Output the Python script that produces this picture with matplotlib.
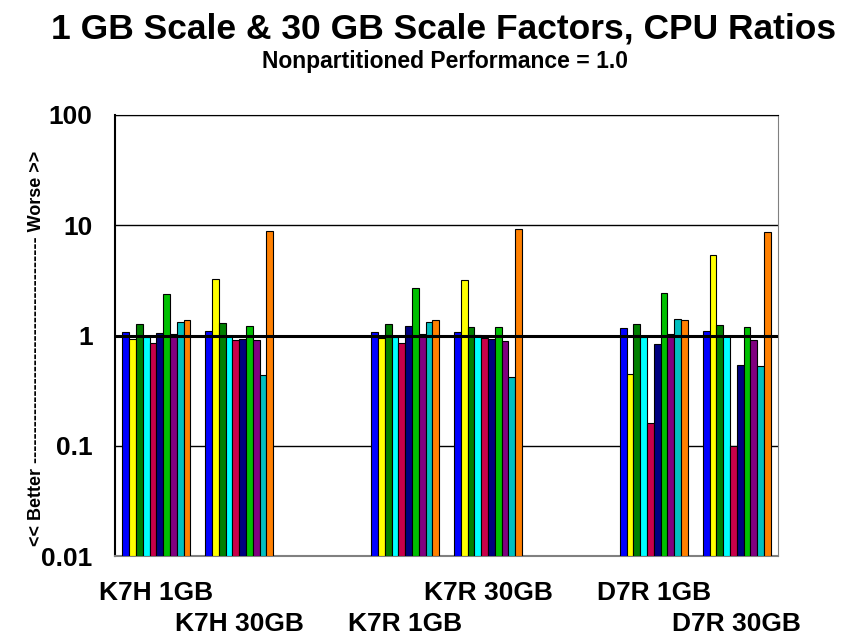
import numpy as np
import matplotlib
matplotlib.use("Agg")
import matplotlib.pyplot as plt

plt.rcParams['font.family'] = ['Liberation Sans', 'DejaVu Sans']
plt.rcParams['font.weight'] = 'bold'

# 8 category slots, two of them empty (gaps between system groups)
cats = ['K7H 1GB', 'K7H 30GB', '', 'K7R 1GB', 'K7R 30GB', '', 'D7R 1GB', 'D7R 30GB']
groups = [0, 1, 3, 4, 6, 7]

# one list per series (10 series), values per non-empty group
s_blue    = [1.08, 1.09, 1.08, 1.08, 1.17, 1.09]
s_yellow  = [0.93, 3.23, 0.95, 3.20, 0.45, 5.38]
s_dkgreen = [1.28, 1.29, 1.28, 1.19, 1.28, 1.25]
s_cyan    = [0.97, 0.99, 0.97, 1.02, 0.97, 0.99]
s_crimson = [0.86, 0.91, 0.86, 0.95, 0.16, 0.10]
s_navy    = [1.06, 0.94, 1.22, 0.93, 0.83, 0.54]
s_green   = [2.40, 1.23, 2.70, 1.19, 2.43, 1.20]
s_purple  = [1.03, 0.92, 1.03, 0.90, 1.03, 0.92]
s_teal    = [1.33, 0.44, 1.33, 0.42, 1.42, 0.53]
s_orange  = [1.39, 8.87, 1.39, 9.30, 1.39, 8.77]

series = [s_blue, s_yellow, s_dkgreen, s_cyan, s_crimson,
          s_navy, s_green, s_purple, s_teal, s_orange]
colors = ['#0000FF', '#FFFF00', '#008000', '#00FFFF', '#C8004A',
          '#000080', '#00C000', '#800080', '#00C0C0', '#FF8000']

fig = plt.figure(figsize=(8.45, 6.37), dpi=100)
ax = fig.add_axes([0.136, 0.127, 0.785, 0.6925])

ax.set_yscale('log')
ax.set_ylim(0.01, 100)
ax.set_xlim(-0.5, 7.5)

w = 0.082
x = np.array(groups, dtype=float)
for i, (vals, c) in enumerate(zip(series, colors)):
    v = np.array(vals)
    ax.bar(x + (i - 4.5) * w, v - 0.01, bottom=0.01, width=w, color=c,
           edgecolor='black', linewidth=0.8, zorder=3)

# gridlines
for g in [0.1, 10, 100]:
    ax.axhline(g, color='black', linewidth=1.0, zorder=1)
ax.axhline(1, color='black', linewidth=2.2, zorder=4)

ax.set_yticks([0.01, 0.1, 1, 10, 100])
ax.set_yticklabels(['0.01', '0.1', '1', '10', '100'])
ax.yaxis.set_minor_locator(matplotlib.ticker.NullLocator())
ax.tick_params(axis='y', labelsize=19, length=0, pad=16)

# staggered category labels (Excel style: even slots row 1, odd slots row 2)
ax.set_xticks(range(8))
ax.set_xticklabels([])
ax.tick_params(axis='x', length=0)
xt = ax.get_xaxis_transform()
for k, c in enumerate(cats):
    if not c:
        continue
    yy = -0.083 if k % 2 == 0 else -0.153
    ax.text(k, yy, c, transform=xt, ha='center', va='center', fontsize=19,
            fontweight='bold')

ax.spines['left'].set_color('black')
ax.spines['left'].set_linewidth(1.5)
ax.spines['top'].set_color('black')
ax.spines['right'].set_color('#808080')
ax.spines['bottom'].set_color('#808080')
ax.spines['bottom'].set_linewidth(1.5)

ax.set_ylabel('<< Better ------------------------------------- Worse >>',
              fontsize=13, fontweight='bold')
ax.yaxis.set_label_coords(-0.105, 0.472)

fig.text(0.525, 0.955, '1 GB Scale & 30 GB Scale Factors, CPU Ratios',
         ha='center', va='center', fontsize=25.5, fontweight='bold')
fig.text(0.527, 0.903, 'Nonpartitioned Performance = 1.0',
         ha='center', va='center', fontsize=16.5, fontweight='bold')

fig.savefig('out.png', dpi=100)
